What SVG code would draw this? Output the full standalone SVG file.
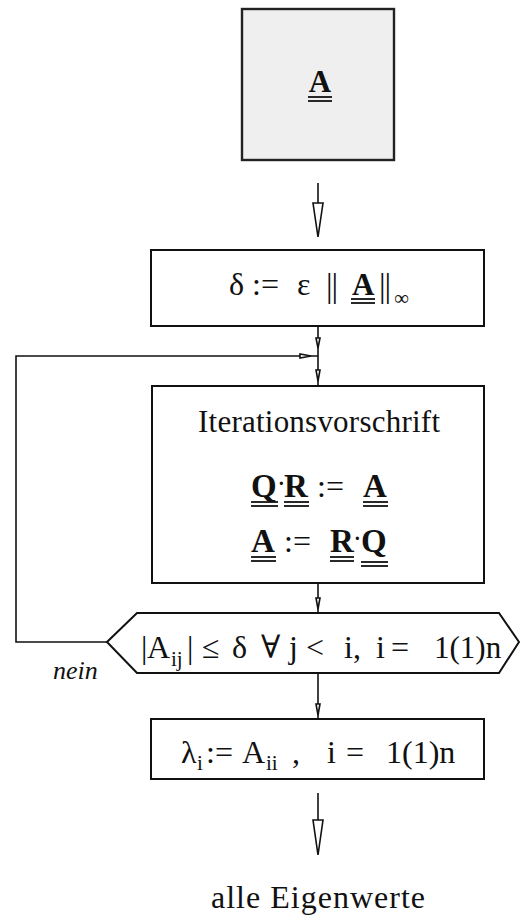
<svg xmlns="http://www.w3.org/2000/svg" width="520" height="917" viewBox="0 0 520 917">
<style>
text{font-family:"Liberation Serif","DejaVu Serif",serif;fill:#111}
.m{font-size:32px}
.b{font-weight:bold}
.s{font-size:21px}
.nb{font-size:33px;letter-spacing:-1px}
.box{fill:#fff;stroke:#111;stroke-width:2}
.ln{stroke:#111;stroke-width:1.6;fill:none}
.u{stroke:#111;stroke-width:1.8}
.ah{fill:#fff;stroke:#111;stroke-width:1.6;stroke-linejoin:miter}
</style>
<g id="connectors">
<line class="ln" x1="318" y1="183" x2="318" y2="203"/>
<polygon class="ah" points="313,203 323,203 318,237"/>
<line class="ln" x1="318" y1="326" x2="318" y2="386"/>
<polygon class="ah" points="316,338 320,338 318,348"/>
<polygon class="ah" points="316,370 320,370 318,381"/>
<polyline class="ln" points="107,642 16,642 16,356 318,356"/>
<polygon class="ah" points="300,354 300,358 311,356"/>
<line class="ln" x1="318" y1="583" x2="318" y2="613"/>
<polygon class="ah" points="316,598 320,598 318,609"/>
<line class="ln" x1="318" y1="673" x2="318" y2="719"/>
<polygon class="ah" points="316,704 320,704 318,715"/>
<line class="ln" x1="318" y1="793" x2="318" y2="820"/>
<polygon class="ah" points="313,820 323,820 318,855"/>
</g>
<g id="start">
<rect x="242" y="9" width="152" height="151" fill="#efefef" stroke="#222" stroke-width="2.4"/>
<text class="b" font-size="31" x="320" y="92" text-anchor="middle">A</text>
<line class="u" x1="308" y1="97" x2="332" y2="97"/>
<line class="u" x1="308" y1="101" x2="332" y2="101"/>
</g>
<g id="delta">
<rect class="box" x="151" y="250" width="333" height="76"/>
<text class="m" x="229" y="295">δ</text>
<text class="m" x="252" y="295">:=</text>
<text class="m" x="297" y="295">ε</text>
<text class="nb" x="326" y="297">||</text>
<text class="b" font-size="31" x="352" y="295">A</text>
<line class="u" x1="351" y1="299" x2="375" y2="299"/>
<line class="u" x1="351" y1="303" x2="375" y2="303"/>
<text class="nb" x="379" y="297">||</text>
<text class="s" x="394" y="305">∞</text>
</g>
<g id="iteration">
<rect class="box" x="152" y="386" width="332" height="197"/>
<text font-size="31" x="319" y="432" text-anchor="middle" textLength="242">Iterationsvorschrift</text>
<text class="b" font-size="33" x="251" y="497">Q</text>
<text class="b" font-size="20" x="278" y="490">·</text>
<text class="b" font-size="33" x="284" y="497">R</text>
<text class="m" x="317" y="497">:=</text>
<text class="b" font-size="33" x="363" y="497">A</text>
<line class="u" x1="251" y1="502" x2="278" y2="502"/>
<line class="u" x1="251" y1="506" x2="278" y2="506"/>
<line class="u" x1="284" y1="502" x2="309" y2="502"/>
<line class="u" x1="284" y1="506" x2="309" y2="506"/>
<line class="u" x1="363" y1="502" x2="388" y2="502"/>
<line class="u" x1="363" y1="506" x2="388" y2="506"/>
<text class="b" font-size="33" x="251" y="552">A</text>
<text class="m" x="284" y="552">:=</text>
<text class="b" font-size="33" x="330" y="552">R</text>
<text class="b" font-size="20" x="354" y="545">·</text>
<text class="b" font-size="33" x="361" y="552">Q</text>
<line class="u" x1="251" y1="557" x2="276" y2="557"/>
<line class="u" x1="251" y1="561" x2="276" y2="561"/>
<line class="u" x1="330" y1="557" x2="354" y2="557"/>
<line class="u" x1="330" y1="561" x2="354" y2="561"/>
<line class="u" x1="361" y1="562" x2="388" y2="562"/>
<line class="u" x1="361" y1="566" x2="388" y2="566"/>
</g>
<g id="decision">
<polygon class="box" points="107,642 137,613 499,613 519,642 499,673 137,673"/>
<text class="m" x="141" y="658">|</text>
<text class="m" x="147" y="658">A</text>
<text class="s" x="171" y="666">ij</text>
<text class="m" x="187" y="658">|</text>
<text class="m" x="202" y="658">≤</text>
<text class="m" x="232" y="658">δ</text>
<text class="m" x="261" y="658">∀</text>
<text class="m" x="289" y="658">j</text>
<text class="m" x="306" y="658">&lt;</text>
<text class="m" x="344" y="658">i,</text>
<text class="m" x="376" y="658">i</text>
<text class="m" x="391" y="658">=</text>
<text font-size="31" x="434" y="658">1(1)n</text>
<text font-size="26" font-style="italic" x="53" y="679">nein</text>
</g>
<g id="eigen">
<rect class="box" x="151" y="719" width="333" height="60"/>
<text class="m" x="181" y="763">λ</text>
<text class="s" x="197" y="770">i</text>
<text class="m" x="206" y="763">:=</text>
<text class="m" x="242" y="763">A</text>
<text class="s" x="266" y="770">ii</text>
<text class="m" x="292" y="763">,</text>
<text class="m" x="327" y="763">i</text>
<text class="m" x="346" y="763">=</text>
<text class="m" x="386" y="763">1(1)n</text>
</g>
<g id="end">
<text class="m" x="318" y="908" text-anchor="middle" textLength="214">alle Eigenwerte</text>
</g>
</svg>
